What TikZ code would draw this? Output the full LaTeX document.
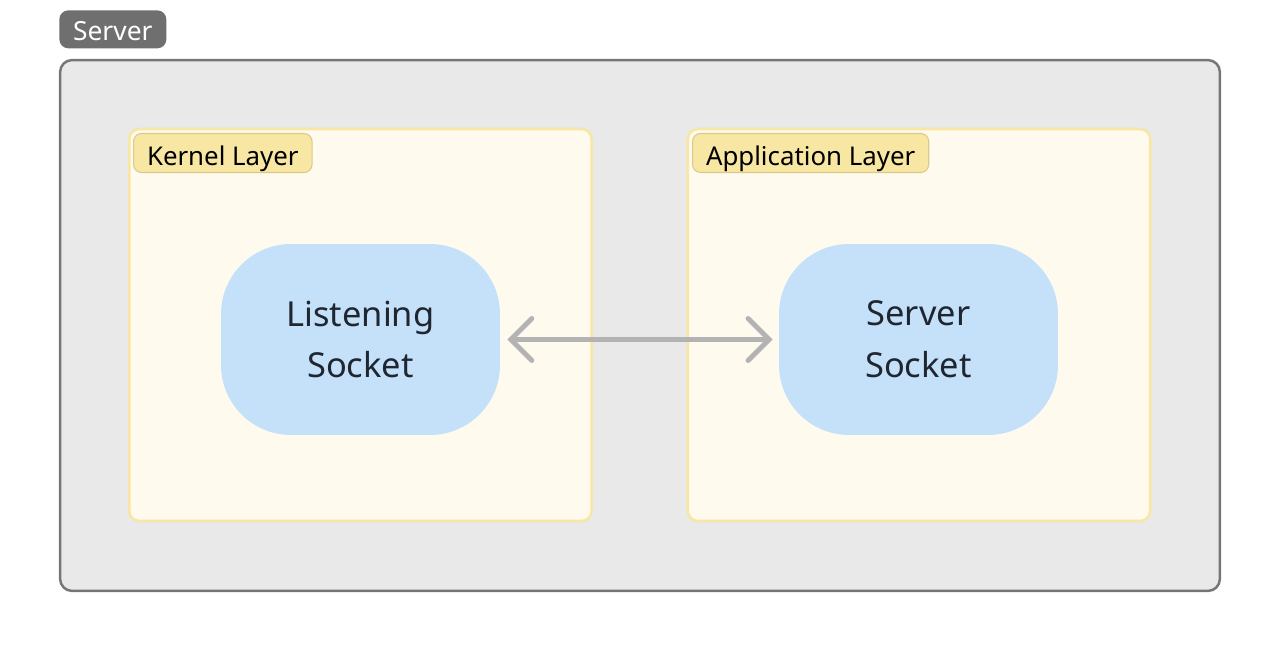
\documentclass[tikz,border=0pt]{standalone}
\usepackage{fontspec}
\setmainfont{Noto Sans}
\usetikzlibrary{arrows.meta}
\usetikzlibrary{positioning}

\definecolor{srvfill}{HTML}{E9E9E9}
\definecolor{srvline}{HTML}{767676}
\definecolor{srvtag}{HTML}{6F6F6F}
\definecolor{layerfill}{HTML}{FEFBEE}
\definecolor{layerline}{HTML}{F7E6A6}
\definecolor{tagfill}{HTML}{F8E6A3}
\definecolor{tagline}{HTML}{DCC98A}
\definecolor{sockfill}{HTML}{C5E1FA}
\definecolor{linkgray}{HTML}{B3B3B3}
\definecolor{inktext}{HTML}{1F2630}

\begin{document}
\begin{tikzpicture}[x=0.02cm,y=-0.02cm,
    serverbox/.style={draw=srvline, fill=srvfill, line width=1.4pt, rounded corners=0.24cm,
        minimum width=23.2cm, minimum height=10.62cm},
    servertag/.style={fill=srvtag, text=white, rounded corners=0.18cm, anchor=north west,
        minimum width=2.14cm, minimum height=0.76cm, inner sep=0pt, text height=0.44cm, text depth=0cm,
        font=\fontsize{15}{18}\selectfont},
    layer/.style={draw=layerline, fill=layerfill, line width=1.5pt, rounded corners=0.2cm,
        minimum width=9.25cm, minimum height=7.84cm},
    layertag/.style={draw=tagline, fill=tagfill, line width=0.6pt, rounded corners=0.16cm, anchor=north west,
        minimum height=0.78cm, inner ysep=0pt, inner xsep=0.27cm, text height=0.5cm, text depth=0cm,
        font=\fontsize{14.7}{17}\selectfont},
    socket/.style={fill=sockfill, rounded corners=1.4cm, minimum width=5.58cm, minimum height=3.82cm,
        align=center, text=inktext, font=\fontsize{19.6}{29.5}\selectfont},
    link/.style={draw=linkgray, line width=2.8pt, line cap=round,
        {Straight Barb[length=0.42cm, width=0.84cm, line cap=round]}-{Straight Barb[length=0.42cm, width=0.84cm, line cap=round]},
        shorten <=4pt, shorten >=3.5pt}]
    \useasboundingbox (0,0) rectangle (1280,651);
    % outer server box
    \node[serverbox] (server) at (640,325.5) {};
    \node[servertag] (servertitle) at (59,10) {Server};
    % the two layers
    \node[layer] (kernel) at (360.5,325) {};
    \node[layer] (app) at (919,325) {};
    \node[layertag] (kerneltitle) at (133,133) {Kernel Layer};
    \node[layertag] (apptitle) at (692,133) {Application Layer};
    % sockets
    \node[socket] (listen) at (360.5,339.5) {Listening\\Socket};
    \node[socket] (serversock) at (918.5,339.5) {Server\\Socket};
    \draw[link] (listen) -- (serversock);
\end{tikzpicture}
\end{document}
